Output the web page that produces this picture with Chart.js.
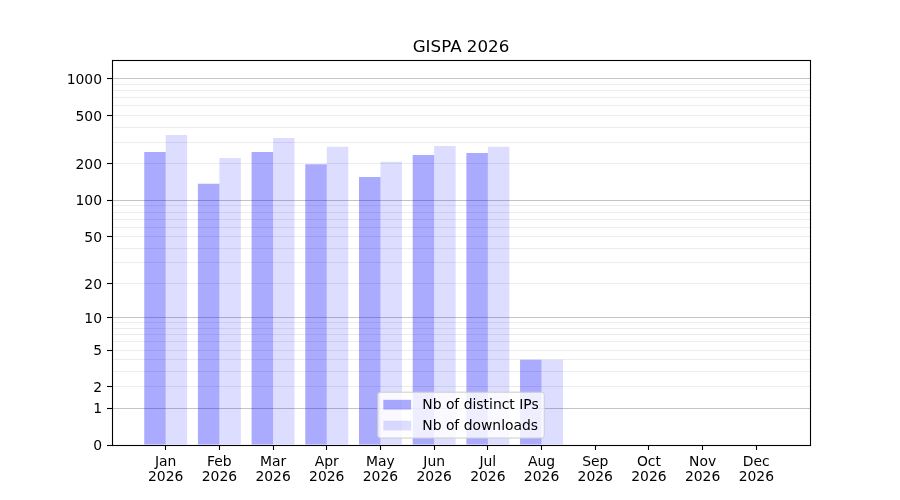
<!DOCTYPE html>
<html>
<head>
<meta charset="utf-8">
<script src="https://cdn.jsdelivr.net/npm/chart.js@4/dist/chart.umd.min.js"></script>
<style>
  html, body { margin: 0; padding: 0; background: #ffffff; }
  canvas { display: block; }
</style>
</head>
<body>
<canvas id="c" width="900" height="500"></canvas>
<script>
const chartTitle = 'GISPA 2026';
const months = ['Jan','Feb','Mar','Apr','May','Jun','Jul','Aug','Sep','Oct','Nov','Dec'];
const yearLabel = '2026';
const distinctIPs = [250, 137, 250, 199, 156, 237, 246, 4, 0, 0, 0, 0];
const downloads   = [346, 224, 327, 276, 208, 281, 276, 4, 0, 0, 0, 0];
const seriesLabels = ['Nb of distinct IPs', 'Nb of downloads'];
const yLabeledTicks = [0, 1, 2, 5, 10, 20, 50, 100, 200, 500, 1000];
const yMajorGrid = [1, 10, 100, 1000];
const yMinorTicks = [3, 4, 6, 7, 8, 9, 30, 40, 60, 70, 80, 90, 300, 400, 600, 700, 800, 900];
const yAxisMaxValue = 1425;

const fwd = v => Math.log10(1 + v);
const inv = t => Math.pow(10, t) - 1;
const near = (a, b) => Math.abs(a - b) < 1e-6;
const FONT = "'DejaVu Sans', sans-serif";
const colIP = 'rgba(0,0,255,0.333)';
const colDL = 'rgba(0,0,255,0.133)';

const allYTicks = yLabeledTicks.concat(yMinorTicks).sort((a, b) => a - b);

const framePlugin = {
  id: 'frame',
  afterDraw(chart) {
    const ctx = chart.ctx, a = chart.chartArea;
    ctx.save();
    // title
    ctx.fillStyle = '#000';
    ctx.font = '16.7px ' + FONT;
    ctx.textAlign = 'center';
    ctx.textBaseline = 'alphabetic';
    ctx.fillText(chartTitle, (a.left + a.right) / 2, 52);
    // frame
    ctx.strokeStyle = '#000';
    ctx.lineWidth = 1.1;
    ctx.strokeRect(Math.round(a.left) + 0.5, Math.round(a.top) + 0.5,
                   Math.round(a.right - a.left), Math.round(a.bottom - a.top));
    // legend
    const fs = 13.9;
    ctx.font = fs + 'px ' + FONT;
    const labels = chart.data.datasets.map(d => d.label);
    const colors = chart.data.datasets.map(d => d.backgroundColor);
    const tw = Math.max(...labels.map(l => ctx.measureText(l).width));
    const bp = 0.4 * fs, hl = 2.0 * fs, htp = 0.8 * fs, ls = 0.5 * fs;
    const w = 2 * bp + hl + htp + tw;
    const h = 2 * bp + labels.length * fs + (labels.length - 1) * ls;
    const x0 = (a.left + a.right) / 2 - w / 2;
    const y0 = a.bottom - 0.5 * fs - h;
    const r = 0.2 * fs;
    ctx.beginPath();
    ctx.moveTo(x0 + r, y0);
    ctx.lineTo(x0 + w - r, y0);
    ctx.quadraticCurveTo(x0 + w, y0, x0 + w, y0 + r);
    ctx.lineTo(x0 + w, y0 + h - r);
    ctx.quadraticCurveTo(x0 + w, y0 + h, x0 + w - r, y0 + h);
    ctx.lineTo(x0 + r, y0 + h);
    ctx.quadraticCurveTo(x0, y0 + h, x0, y0 + h - r);
    ctx.lineTo(x0, y0 + r);
    ctx.quadraticCurveTo(x0, y0, x0 + r, y0);
    ctx.closePath();
    ctx.fillStyle = 'rgba(255,255,255,0.8)';
    ctx.fill();
    ctx.strokeStyle = '#cccccc';
    ctx.lineWidth = 1;
    ctx.stroke();
    ctx.textAlign = 'left';
    ctx.textBaseline = 'middle';
    labels.forEach((l, i) => {
      const cy = y0 + bp + fs / 2 + i * (fs + ls);
      ctx.fillStyle = colors[i];
      ctx.fillRect(x0 + bp, cy - 0.35 * fs, hl, 0.7 * fs);
      ctx.fillStyle = '#000';
      ctx.fillText(l, x0 + bp + hl + htp, cy + 0.5);
    });
    ctx.restore();
  }
};

new Chart(document.getElementById('c'), {
  type: 'bar',
  data: {
    datasets: [
      { label: seriesLabels[0], data: distinctIPs.map((v, i) => ({ x: i, y: fwd(v) })),
        backgroundColor: colIP, borderWidth: 0 },
      { label: seriesLabels[1], data: downloads.map((v, i) => ({ x: i, y: fwd(v) })),
        backgroundColor: colDL, borderWidth: 0 }
    ]
  },
  options: {
    responsive: false,
    animation: false,
    devicePixelRatio: 1,
    categoryPercentage: 0.8,
    barPercentage: 1.0,
    layout: { padding: { left: 0, top: 60, right: 90, bottom: 0 } },
    plugins: { legend: { display: false }, title: { display: false }, tooltip: { enabled: false } },
    scales: {
      x: {
        type: 'linear',
        min: -1, max: 12,
        offset: false,
        afterBuildTicks(scale) { scale.ticks = months.map((m, i) => ({ value: i })); },
        afterFit(scale) { scale.height = 55; },
        border: { display: false },
        grid: { display: true, offset: false, drawOnChartArea: false, drawTicks: true, tickLength: 5, tickColor: '#000', tickWidth: 1.1 },
        ticks: {
          autoSkip: false,
          maxRotation: 0,
          padding: 5,
          color: '#000',
          font: { family: FONT, size: 13.9, lineHeight: '15px' },
          callback: (v) => [months[Math.round(v)], yearLabel]
        }
      },
      y: {
        type: 'linear',
        min: 0,
        max: fwd(yAxisMaxValue),
        afterBuildTicks(scale) { scale.ticks = allYTicks.map(v => ({ value: fwd(v) })); },
        afterFit(scale) { scale.width = 112; },
        border: { display: false },
        grid: {
          display: true,
          drawTicks: true,
          tickLength: 5,
          lineWidth: 1,
          color: (ctx) => {
            const v = ctx.tick ? inv(ctx.tick.value) : 0;
            if (near(v, 0)) return 'rgba(0,0,0,0)';
            if (yMajorGrid.some(m => Math.abs(m - v) < 1e-3 * Math.max(1, m))) return '#c4c4c4';
            return '#ececec';
          },
          tickColor: (ctx) => {
            const v = ctx.tick ? inv(ctx.tick.value) : 0;
            return yLabeledTicks.some(m => Math.abs(m - v) < 1e-3 * Math.max(1, m)) ? '#000' : 'rgba(0,0,0,0)';
          },
          tickWidth: 1.1
        },
        ticks: {
          autoSkip: false,
          padding: 5,
          labelOffset: 1.5,
          color: '#000',
          font: { family: FONT, size: 13.9 },
          callback: (t) => {
            const v = inv(t);
            const m = yLabeledTicks.find(x => Math.abs(x - v) < 1e-3 * Math.max(1, x));
            return m === undefined ? '' : String(m);
          }
        }
      }
    }
  },
  plugins: [framePlugin]
});
</script>
</body>
</html>
